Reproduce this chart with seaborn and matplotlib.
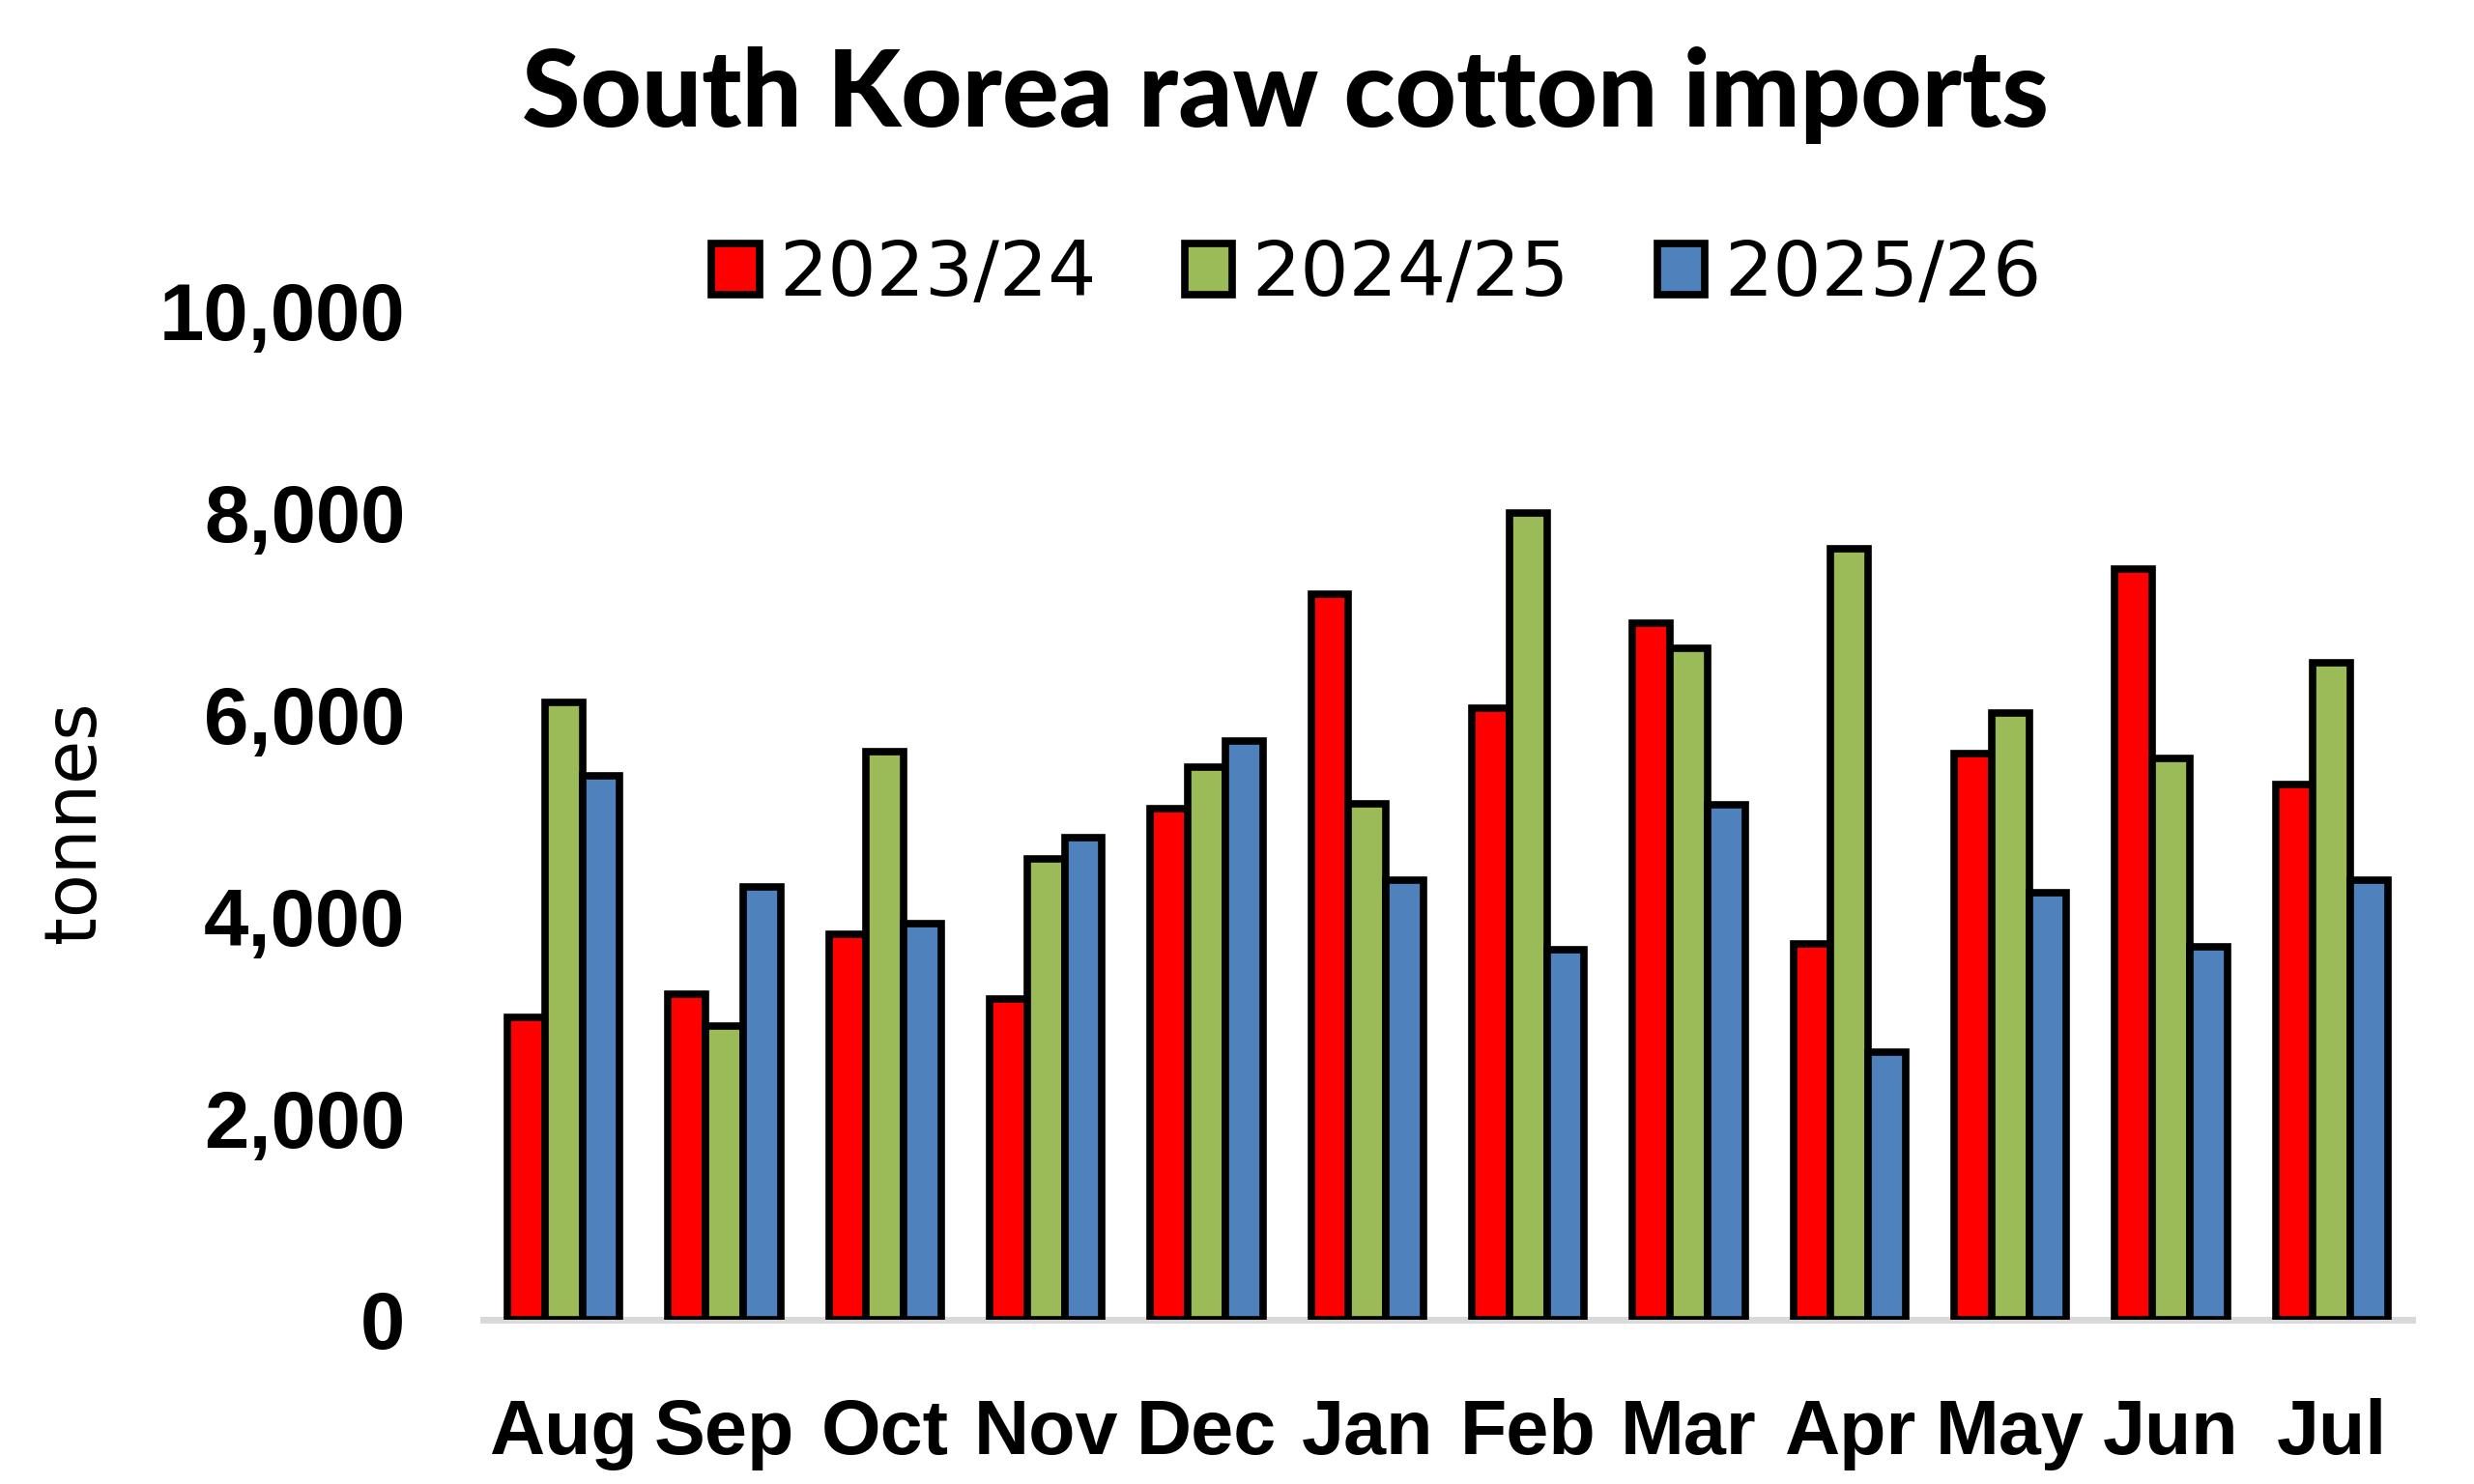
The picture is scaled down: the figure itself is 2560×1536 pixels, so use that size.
import matplotlib
matplotlib.use("Agg")
import matplotlib.pyplot as plt
import matplotlib.ticker as mticker
import numpy as np
import pandas as pd
import seaborn as sns

# ---- data ----
months = ["Aug", "Sep", "Oct", "Nov", "Dec", "Jan", "Feb", "Mar", "Apr", "May", "Jun", "Jul"]
seasons = ["2023/24", "2024/25", "2025/26"]
s2023_24 = [3000, 3230, 3820, 3180, 5065, 7195, 6060, 6910, 3730, 5610, 7440, 5310]
s2024_25 = [6120, 2910, 5630, 4570, 5475, 5115, 7995, 6655, 7645, 6015, 5560, 6515]
s2025_26 = [5395, 4290, 3930, 4780, 5740, 4360, 3665, 5105, 2655, 4235, 3700, 4355]
colors = ["#FF0000", "#9BBB59", "#4F81BD"]
yticks = [0, 2000, 4000, 6000, 8000, 10000]

df = pd.DataFrame({
    "month": months * 3,
    "season": [seasons[0]] * 12 + [seasons[1]] * 12 + [seasons[2]] * 12,
    "tonnes": s2023_24 + s2024_25 + s2025_26,
})

sns.set_theme(style="white")
plt.rcParams["font.family"] = ["DejaVu Sans"]
plt.rcParams["text.color"] = "black"
plt.rcParams["axes.labelcolor"] = "black"
plt.rcParams["xtick.color"] = "black"
plt.rcParams["ytick.color"] = "black"

fig = plt.figure(figsize=(25.6, 15.36), dpi=100)
ax = fig.add_axes([0.1953, 0.1107, 0.7797, 0.6797])

sns.barplot(data=df, x="month", y="tonnes", hue="season", order=months,
            hue_order=seasons, palette=colors, saturation=1, width=0.7,
            edgecolor="black", linewidth=5.5, errorbar=None, ax=ax, zorder=3)

ax.set_ylim(0, 10000)
ax.set_xlim(-0.5, 11.5)
ax.set_yticks(yticks)
ax.yaxis.set_major_formatter(mticker.FuncFormatter(lambda v, p: f"{v:,.0f}"))
ax.tick_params(axis="both", length=0, pad=58, colors="black")
for lab in ax.get_yticklabels():
    lab.set_fontfamily(["Liberation Sans", "DejaVu Sans"])
    lab.set_fontweight("bold")
    lab.set_fontsize(60)
    lab.set_color("black")
for lab in ax.get_xticklabels():
    lab.set_fontfamily(["Liberation Sans", "DejaVu Sans"])
    lab.set_fontweight("bold")
    lab.set_fontsize(57)
    lab.set_color("black")

for side in ["top", "right", "left"]:
    ax.spines[side].set_visible(False)
ax.spines["bottom"].set_color("#D9D9D9")
ax.spines["bottom"].set_linewidth(5)
ax.spines["bottom"].set_zorder(1)
ax.grid(False)

ax.set_xlabel("")
ax.set_ylabel("tonnes", fontsize=53, fontfamily=["DejaVu Sans"], color="black")
ax.yaxis.label.set_va("center")
ax.yaxis.set_label_coords(-0.2117, 0.494)

# legend
handles, labels = ax.get_legend_handles_labels()
leg = ax.legend(handles, labels, loc="center", bbox_to_anchor=(0.5565, 0.815),
                bbox_transform=fig.transFigure, ncol=3, frameon=False,
                fontsize=57, handlelength=0.62, handleheight=0.66,
                handletextpad=0.26, columnspacing=1.15)
for t in leg.get_texts():
    t.set_fontfamily(["DejaVu Sans"])
    t.set_color("black")
for h in leg.legend_handles:
    h.set_edgecolor("black")
    h.set_linewidth(5.5)

fig.text(0.5195, 0.9147, "South Korea raw cotton imports", ha="center", va="baseline",
         fontsize=79, fontweight="black", fontfamily=["Lato", "DejaVu Sans"], color="black")

fig.savefig("out.png", dpi=100, facecolor="white")
